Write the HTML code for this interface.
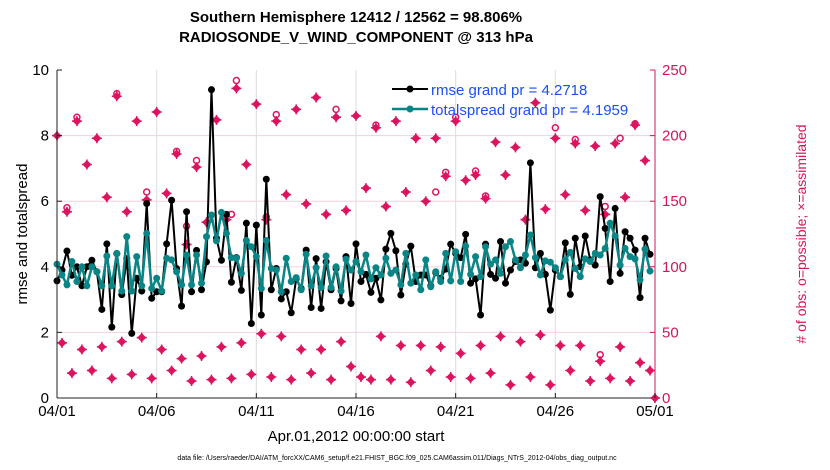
<!DOCTYPE html>
<html><head><meta charset="utf-8"><style>
body{margin:0;background:#fff;}
svg{display:block;font-family:"Liberation Sans",sans-serif;}
</style></head><body>
<svg id="chart" width="830" height="470" viewBox="0 0 830 470" xmlns="http://www.w3.org/2000/svg">
<text x="356" y="22" text-anchor="middle" font-size="15" font-weight="bold">Southern Hemisphere 12412 / 12562 = 98.806%</text>
<text x="356" y="42" text-anchor="middle" font-size="15" font-weight="bold">RADIOSONDE_V_WIND_COMPONENT @ 313 hPa</text>
<g id="grid"></g>
<g id="obs"></g>
<g id="lines"></g>
<g id="axes"></g>
<text transform="translate(27,234) rotate(-90)" text-anchor="middle" font-size="15">rmse and totalspread</text>
<text transform="translate(806,234) rotate(-90)" text-anchor="middle" font-size="14" fill="#d01858">#  of obs: o=possible; ×=assimilated</text>
<text x="356" y="441" text-anchor="middle" font-size="15">Apr.01,2012 00:00:00 start</text>
<text x="397" y="460" text-anchor="middle" font-size="7">data file: /Users/raeder/DAI/ATM_forcXX/CAM6_setup/f.e21.FHIST_BGC.f09_025.CAM6assim.011/Diags_NTrS_2012-04/obs_diag_output.nc</text>
<g>
<line x1="392" y1="89" x2="428" y2="89" stroke="#000" stroke-width="2"/><circle cx="410" cy="89" r="3.5" fill="#000"/>
<text x="431" y="95" font-size="15" fill="#1a50f0">rmse grand pr = 4.2718</text>
<line x1="392" y1="109" x2="428" y2="109" stroke="#0a8585" stroke-width="2.5"/><circle cx="410" cy="109" r="3.5" fill="#0a8585"/>
<text x="431" y="115" font-size="15" fill="#1a50f0">totalspread grand pr = 4.1959</text>
</g>
</svg>
<script>
const rmse=[3.57,3.9,4.48,3.74,4.0,3.42,4.0,4.2,3.85,2.7,4.7,2.16,4.4,3.15,4.25,1.97,3.65,3.26,5.93,3.04,3.24,3.24,4.7,6.03,3.95,2.8,5.68,3.24,4.5,3.3,4.15,
9.4,4.87,4.2,5.6,3.53,4.28,3.28,5.33,2.27,5.27,2.53,6.67,3.3,3.95,3.02,3.24,2.6,3.63,3.34,4.51,2.76,4.25,2.73,4.15,3.3,3.95,2.96,4.31,2.88,
4.70,3.55,3.77,3.22,3.65,2.99,4.54,5.02,4.49,3.14,4.08,4.63,3.55,3.75,3.75,3.42,3.82,3.65,3.93,4.69,4.41,4.28,4.99,3.50,3.63,2.53,4.69,3.77,3.65,
4.77,3.50,3.90,4.16,4.21,4.11,7.17,3.97,4.41,3.77,2.68,3.90,3.70,4.73,3.16,4.87,4.00,4.94,4.21,4.05,6.14,5.17,3.55,5.78,3.80,5.07,4.87,4.51,3.06,4.87,4.38];
const spread=[4.08,3.75,3.45,4.16,3.55,4.00,3.42,4.00,3.85,3.42,4.33,3.42,4.41,3.26,4.92,3.26,4.31,3.42,5.02,3.34,3.65,3.26,4.26,4.21,3.85,3.45,4.36,3.45,4.36,3.50,4.92,5.58,
4.79,5.66,5.02,4.28,4.26,3.80,4.80,4.61,4.31,3.34,4.80,3.95,3.90,3.24,4.26,3.55,3.67,3.30,4.38,3.42,3.97,3.37,4.33,3.37,4.00,3.26,4.23,3.90,
4.16,3.85,4.36,3.63,3.97,3.75,4.26,3.80,3.90,3.45,4.41,3.50,3.75,3.30,4.21,3.39,3.85,3.55,4.41,3.57,4.46,3.55,4.63,3.77,4.31,3.70,4.61,4.08,4.21,
3.80,4.61,4.77,4.21,3.97,4.36,4.97,4.28,3.75,4.18,4.14,3.97,3.70,4.21,4.44,3.95,3.70,4.24,4.16,4.41,4.36,4.56,5.33,4.94,4.05,4.56,4.31,4.24,3.60,4.54,3.87];
const obsUsed=[200,42,142,19,211,37,178,21,198,39,153,15,230,43,142,18,211,46,151,15,218,37,156,21,186,30,117,13,176,32,134,
14,212,39,136,15,236,42,178,18,224,49,136,16,211,47,155,14,220,37,148,19,229,37,140,14,214,43,143,24,
215,16,160,14,206,47,146,14,211,40,157,12,198,40,150,21,198,39,169,16,211,34,166,15,170,40,152,19,195,
47,170,10,191,43,136,16,225,48,144,10,198,40,155,21,194,40,143,13,192,28,140,15,194,39,153,13,208,27,181,21,0];
const possibleIdx=[2,4,12,18,24,26,28,35,36,42,44,56,64,76,78,80,84,86,100,104,109,110,113,116];
const possibleVal=[145,214,232,157,188,131,181,140,242,138,216,220,208,157,172,214,173,154,206,197,33,146,198,209];
const leftTicks=[0,2,4,6,8,10];
const rightTicks=[0,50,100,150,200,250];
const xTickLabels=["04/01","04/06","04/11","04/16","04/21","04/26","05/01"];
const xTickDays=[0,5,10,15,20,25,30];

const L=57,R=655,T=70,B=398;
const ns="http://www.w3.org/2000/svg";
const xDay=d=>L+(R-L)*d/30;
const xIdx=i=>xDay(i/4);
const yL=v=>B-(B-T)*v/10;
const yR=v=>B-(B-T)*v/250;
function mk(tag,attrs,parent){const e=document.createElementNS(ns,tag);for(const k in attrs)e.setAttribute(k,attrs[k]);parent.appendChild(e);return e;}
const grid=document.getElementById('grid'),axes=document.getElementById('axes'),obs=document.getElementById('obs'),lines=document.getElementById('lines');
rightTicks.forEach(v=>{if(v>0&&v<250){const g=mk('line',{x1:L,x2:R,y1:yR(v),y2:yR(v),stroke:'#f6cfe0','stroke-width':1},grid);

}});
xTickDays.forEach(d=>{if(d>0&&d<30){const g=mk('line',{x1:xDay(d),x2:xDay(d),y1:T,y2:B,stroke:'#dcdcdc','stroke-width':1},grid);

}});
const ax1=mk('line',{x1:L,x2:L,y1:T,y2:B,stroke:'#222','stroke-width':1},axes);


const ax2=mk('line',{x1:L,x2:R,y1:B,y2:B,stroke:'#222','stroke-width':1},axes);


const ax3=mk('line',{x1:R,x2:R,y1:T,y2:B,stroke:'#d01858','stroke-width':1},axes);


leftTicks.forEach(v=>{mk('line',{x1:L,x2:L+5,y1:yL(v),y2:yL(v),stroke:'#222'},axes);
const t=mk('text',{x:L-8,y:yL(v)+5,'text-anchor':'end','font-size':15},axes);t.textContent=v;

});
rightTicks.forEach(v=>{mk('line',{x1:R-5,x2:R,y1:yR(v),y2:yR(v),stroke:'#d01858'},axes);
const t=mk('text',{x:R+7,y:yR(v)+5,'font-size':15,fill:'#d01858'},axes);t.textContent=v;

});
xTickDays.forEach((d,k)=>{mk('line',{x1:xDay(d),x2:xDay(d),y1:B-5,y2:B,stroke:'#222'},axes);
const t=mk('text',{x:xDay(d),y:B+18,'text-anchor':'middle','font-size':15},axes);t.textContent=xTickLabels[k];

});
const pc='#dc1460';
obsUsed.forEach((v,i)=>{const x=xIdx(i),y=yR(v);
const g=mk('g',{},obs);


mk('path',{d:`M${x} ${y-4.5}L${x+4.5} ${y}L${x} ${y+4.5}L${x-4.5} ${y}Z`,fill:pc},g);
mk('path',{d:`M${x-5} ${y}H${x+5}M${x} ${y-5}V${y+5}`,stroke:pc,'stroke-width':1.5},g);});
possibleIdx.forEach((i,k)=>{const c=mk('circle',{cx:xIdx(i),cy:yR(possibleVal[k]),r:3,fill:'none',stroke:pc,'stroke-width':1.5},obs);

});
function series(arr,color,w,name){
const p=mk('polyline',{points:arr.map((v,i)=>xIdx(i)+','+yL(v)).join(' '),fill:'none',stroke:color,'stroke-width':w,'stroke-linejoin':'round'},lines);


arr.forEach((v,i)=>{const c=mk('circle',{cx:xIdx(i),cy:yL(v),r:3.5,fill:color},lines);

});}
series(rmse,'#000',2,'rmse');
series(spread,'#0a8585',2.5,'totalspread');
</script>
</body></html>
